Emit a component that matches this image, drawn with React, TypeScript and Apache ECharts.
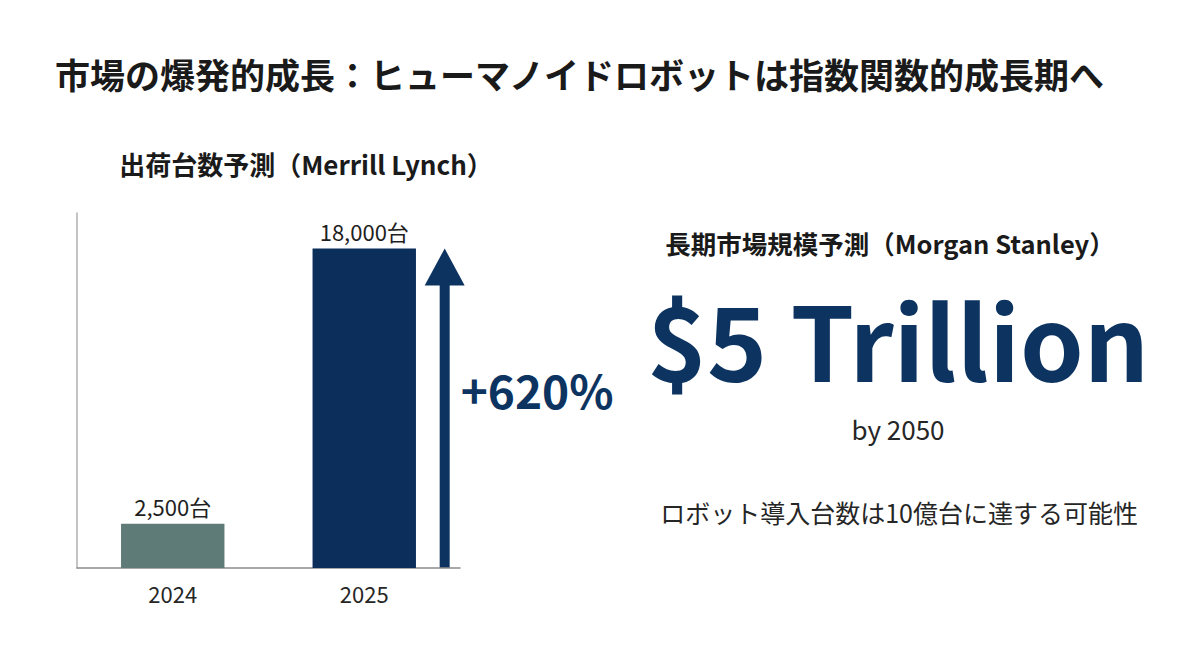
import React, { useEffect, useRef } from "react";
import * as echarts from "echarts";

const categories = ["2024", "2025"];
const shipments = [2500, 18000];
const barColors = ["#5f7b77", "#0b2f5a"];
const yMax = 20000;

const titleText = "市場の爆発的成長：ヒューマノイドロボットは指数関数的成長期へ";
const leftSubtitle = "出荷台数予測（Merrill Lynch）";
const rightSubtitle = "長期市場規模予測（Morgan Stanley）";
const bigNumber = "$5 Trillion";
const bigNumberNote = "by 2050";
const footNote = "ロボット導入台数は10億台に達する可能性";

const FONT = '"Noto Sans CJK JP", "Noto Sans", sans-serif';
const NAVY = "#0d3461";

export default function App() {
  const ref = useRef<HTMLDivElement>(null);
  useEffect(() => {
    if (!ref.current) return;
    const chart = echarts.init(ref.current, undefined, { renderer: "svg" });
    const growth = Math.round(((shipments[1] - shipments[0]) / shipments[0]) * 100);
    chart.setOption({
      animation: false,
      backgroundColor: "#ffffff",
      textStyle: { fontFamily: FONT },
      grid: { left: 77, right: 740, top: 213, bottom: 102, containLabel: false },
      xAxis: {
        type: "category",
        data: categories,
        axisLine: { show: true, lineStyle: { color: "#8c8c8c", width: 1.5 } },
        axisTick: { show: false },
        axisLabel: { color: "#262626", fontSize: 22, margin: 14, fontFamily: FONT },
      },
      yAxis: {
        type: "value",
        min: 0,
        max: yMax,
        axisLine: { show: true, lineStyle: { color: "#b0b0b0", width: 1.5 } },
        axisTick: { show: false },
        axisLabel: { show: false },
        splitLine: { show: false },
      },
      series: [
        {
          type: "bar",
          barWidth: "54%",
          data: shipments.map((v, i) => ({ value: v, itemStyle: { color: barColors[i] } })),
          label: {
            show: true,
            position: "top",
            distance: 7,
            color: "#1f1f1f",
            fontSize: 22,
            fontFamily: FONT,
            formatter: (p: any) => p.value.toLocaleString("en-US") + "台",
          },
        },
      ],
    });

    const [cx0] = chart.convertToPixel({ gridIndex: 0 }, [categories[0], 0]) as number[];
    const [cx1, yTop] = chart.convertToPixel({ gridIndex: 0 }, [categories[1], shipments[1]]) as number[];
    const [, yBase] = chart.convertToPixel({ gridIndex: 0 }, [categories[1], 0]) as number[];
    const band = cx1 - cx0;
    const ax = cx1 + band * 0.42;
    const headH = 37;
    const headW = 40;
    const shaftW = 10;

    chart.setOption({
      graphic: [
        {
          type: "text",
          left: 55,
          top: 56,
          style: { text: titleText, fill: "#1a1a1a", font: `bold 35px ${FONT}` },
        },
        {
          type: "text",
          x: 306,
          y: 163,
          style: {
            text: leftSubtitle,
            font: `bold 26px ${FONT}`,
            fill: "#1a1a1a",
            align: "center",
            verticalAlign: "middle",
          },
        },
        {
          type: "rect",
          shape: { x: ax - shaftW / 2, y: yTop + headH - 2, width: shaftW, height: yBase - yTop - headH + 2 },
          style: { fill: NAVY },
        },
        {
          type: "polygon",
          shape: {
            points: [
              [ax - headW / 2, yTop + headH],
              [ax + headW / 2, yTop + headH],
              [ax, yTop],
            ],
          },
          style: { fill: NAVY },
        },
        {
          type: "text",
          x: ax + 16,
          y: 389,
          style: {
            text: "+" + growth + "%",
            font: `bold 46px ${FONT}`,
            fill: NAVY,
            align: "left",
            verticalAlign: "middle",
          },
        },
        {
          type: "text",
          x: 890,
          y: 242,
          style: {
            text: rightSubtitle,
            font: `bold 25.5px ${FONT}`,
            fill: "#1a1a1a",
            align: "center",
            verticalAlign: "middle",
          },
        },
        {
          type: "text",
          x: 898,
          y: 337,
          style: {
            text: bigNumber,
            font: `bold 102px ${FONT}`,
            fill: NAVY,
            align: "center",
            verticalAlign: "middle",
          },
        },
        {
          type: "text",
          x: 898,
          y: 428,
          style: {
            text: bigNumberNote,
            font: `26px ${FONT}`,
            fill: "#262626",
            align: "center",
            verticalAlign: "middle",
          },
        },
        {
          type: "text",
          x: 899,
          y: 512,
          style: {
            text: footNote,
            font: `25px ${FONT}`,
            fill: "#262626",
            align: "center",
            verticalAlign: "middle",
          },
        },
      ],
    });

    return () => chart.dispose();
  }, []);
  return (
    <div
      ref={ref}
      style={{ position: "fixed", left: 0, top: 0, width: 1200, height: 670, background: "#fff" }}
    />
  );
}
